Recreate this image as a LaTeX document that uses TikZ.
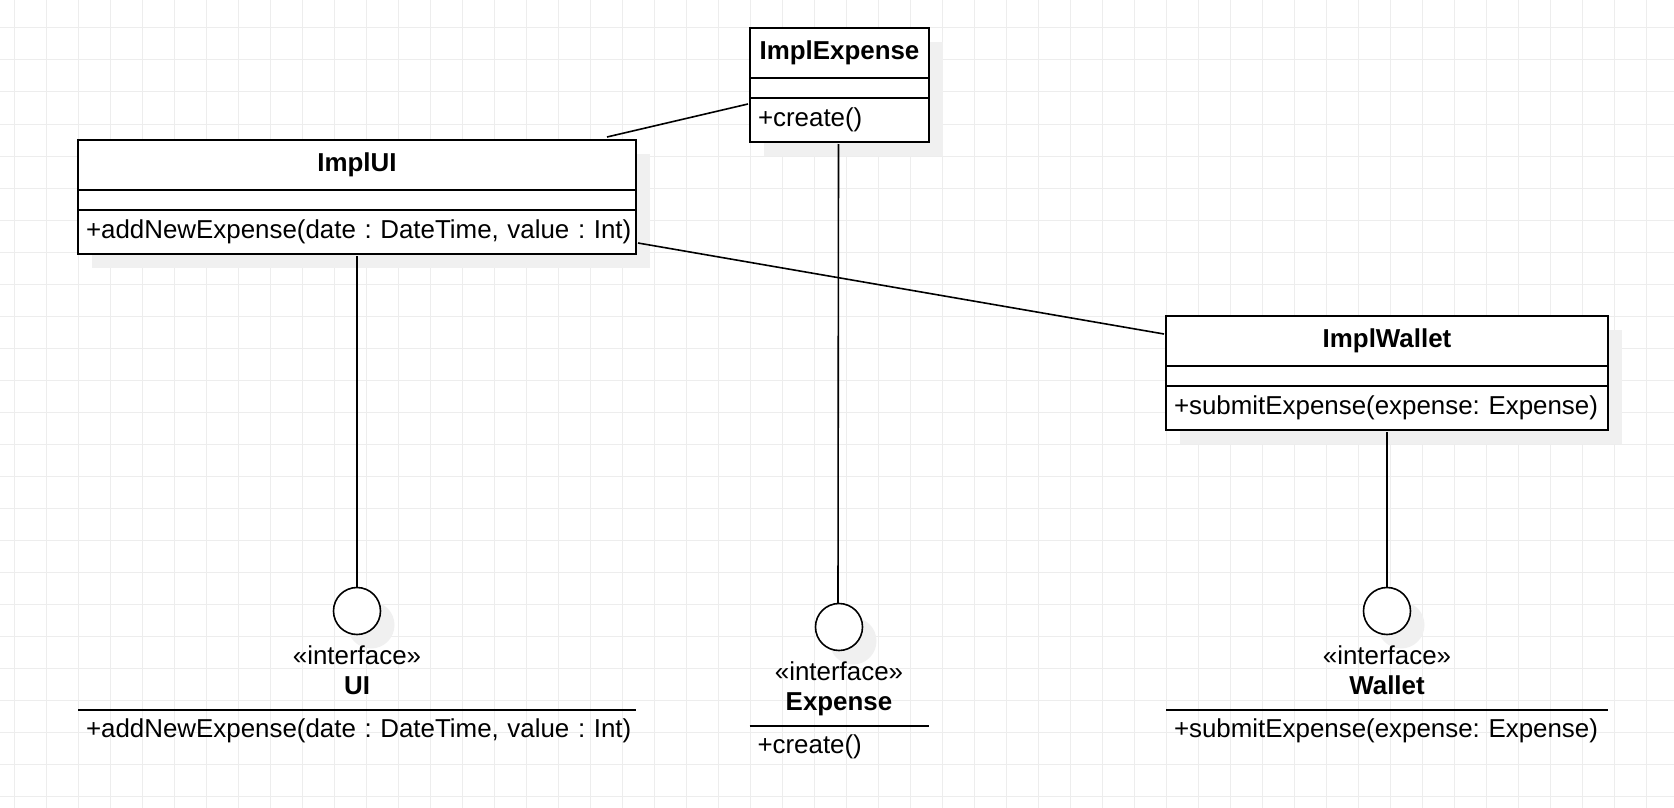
\documentclass[tikz,border=0pt]{standalone}
\usepackage{fontspec}
\setmainfont{Liberation Sans}
\usepackage{tikz}
\usetikzlibrary{positioning,shadows}

\begin{document}
\frenchspacing
\begin{tikzpicture}[
    x=1pt, y=-1pt,
    font=\fontsize{25.9pt}{30pt}\selectfont,
    gridline/.style={draw=black!7, line width=1pt},
    boxshadow/.style={drop shadow={shadow xshift=14pt, shadow yshift=-14pt, fill=black!6, opacity=1}},
    umlbox/.style={draw, fill=white, line width=1.6pt, outer sep=0pt, inner ysep=3pt, boxshadow},
    clsname/.style={umlbox, minimum width=#1, minimum height=50pt, font=\fontsize{25.9pt}{30pt}\selectfont\bfseries},
    clsattr/.style={umlbox, minimum width=#1, minimum height=20pt},
    clsops/.style={umlbox, text width=#1, inner xsep=8pt, align=left, minimum height=44pt},
    iball/.style={circle, draw, fill=white, line width=1.6pt, minimum size=47pt, inner sep=0pt, outer sep=0pt, boxshadow},
    ilabel/.style={align=center, inner sep=0pt},
    iops/.style={text width=#1, inner xsep=8pt, inner ysep=3pt, align=left, minimum height=42pt, outer sep=0pt},
    assoc/.style={line width=1.6pt}
]
% page and grid
\useasboundingbox (0,0) rectangle (1674,808);
\fill[white] (0,0) rectangle (1674,808);
\foreach \gx in {14,46,...,1646} \draw[gridline] (\gx,0) -- (\gx,808);
\foreach \gy in {28,60,...,796} \draw[gridline] (0,\gy) -- (1674,\gy);

% classes
\node[clsname=558pt] (uiname) at (357,165) {ImplUI};
\node[clsattr=558pt, below=0pt of uiname] (uiattr) {};
\node[clsops=542pt, below=0pt of uiattr] (uiops) {\mbox{+addNewExpense(date : DateTime, value : Int)}};

\node[clsname=179pt] (expname) at (839.5,53) {ImplExpense};
\node[clsattr=179pt, below=0pt of expname] (expattr) {};
\node[clsops=163pt, below=0pt of expattr] (expops) {+create()};

\node[clsname=442pt] (walname) at (1387,341) {ImplWallet};
\node[clsattr=442pt, below=0pt of walname] (walattr) {};
\node[clsops=426pt, below=0pt of walattr] (walops) {\mbox{+submitExpense(expense: Expense)}};

% interfaces
\node[iball] (uiball) at (357,611) {};
\node[ilabel, below=11pt of uiball] (uilbl) {«interface»\\\textbf{UI}};
\node[iops=542pt, below=75.5pt of uiball] (uiiops) {\mbox{+addNewExpense(date : DateTime, value : Int)}};

\node[iball] (expball) at (839,627) {};
\node[ilabel, below=11pt of expball] (explbl) {«interface»\\\textbf{Expense}};
\node[iops=163pt, below=75.5pt of expball] (expiops) {+create()};

\node[iball] (walball) at (1387,611) {};
\node[ilabel, below=11pt of walball] (wallbl) {«interface»\\\textbf{Wallet}};
\node[iops=426pt, below=75.5pt of walball] (waliops) {\mbox{+submitExpense(expense: Expense)}};

\draw[assoc] (uiiops.north west) -- (uiiops.north east);
\draw[assoc] (expiops.north west) -- (expiops.north east);
\draw[assoc] (waliops.north west) -- (waliops.north east);

% connectors
\draw[assoc] ([xshift=-29pt,yshift=3pt]uiname.north east) -- ([xshift=-2pt,yshift=16pt]expops.west);
\draw[assoc] ([xshift=2pt,yshift=-11pt]uiops.east) -- ([xshift=-2pt,yshift=7pt]walname.west);
\draw[assoc] ([yshift=-2pt]uiops.south) -- (uiball);
\draw[assoc] ([xshift=-1pt,yshift=-2pt]expops.south) -- ([xshift=-1pt]expball.north);
\draw[assoc] ([yshift=-2pt]walops.south) -- (walball);
\end{tikzpicture}
\end{document}
